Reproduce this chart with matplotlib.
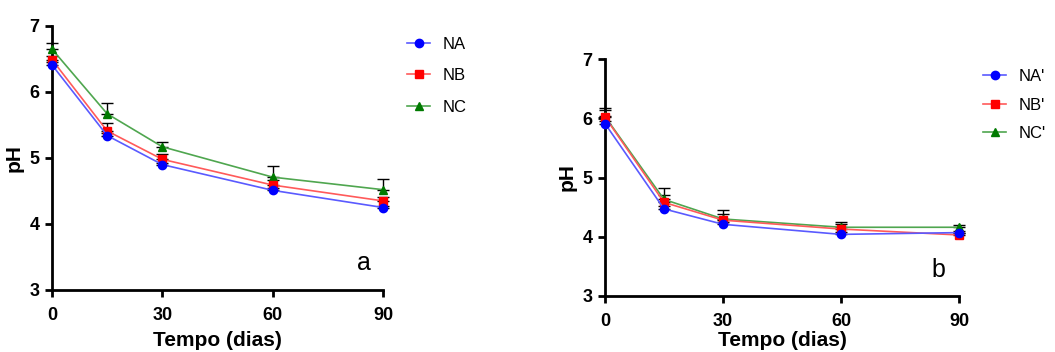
import numpy as np
import matplotlib
matplotlib.use("Agg")
import matplotlib.pyplot as plt

plt.rcParams['font.family'] = ['Liberation Sans', 'DejaVu Sans']

# Sampling days
days = [0, 15, 30, 60, 90]

# Panel a
labels_a = ['NA', 'NB', 'NC']
na = [6.41, 5.34, 4.90, 4.51, 4.25]
nb = [6.49, 5.41, 4.98, 4.59, 4.35]
nc = [6.65, 5.67, 5.17, 4.71, 4.52]
na_err = [0.04, 0.04, 0.03, 0.03, 0.03]
nb_err = [0.06, 0.12, 0.08, 0.08, 0.06]
nc_err = [0.09, 0.16, 0.08, 0.17, 0.16]

# Panel b
labels_b = ["NA'", "NB'", "NC'"]
na2 = [5.91, 4.47, 4.21, 4.04, 4.07]
nb2 = [6.02, 4.58, 4.28, 4.13, 4.03]
nc2 = [6.03, 4.63, 4.30, 4.16, 4.16]
na2_err = [0.05, 0.05, 0.04, 0.04, 0.02]
nb2_err = [0.12, 0.12, 0.10, 0.08, 0.03]
nc2_err = [0.15, 0.20, 0.15, 0.09, 0.03]

line_cols = ['#5a5aff', '#ff5a5a', '#4fa64f']
mark_cols = ['#0000ff', '#ff0000', '#007a00']
markers = ['o', 's', '^']

fig = plt.figure(figsize=(10.55, 3.52), dpi=100)
ax_a = fig.add_axes([52/1055, 62/352, 331/1055, 264/352])
ax_b = fig.add_axes([605/1055, 56/352, 354/1055, 237/352])


def draw_panel(ax, series, errs, labels, letter, letter_y, leg_anchor,
               leg_spacing, xlabel_pad):
    for vals, err in zip(series, errs):
        ax.errorbar(days, vals, yerr=[np.zeros(len(err)), err], fmt='none',
                    ecolor='black', elinewidth=1, capsize=4, capthick=1,
                    zorder=2, clip_on=False)
    # first series drawn on top, as in the original
    for i in range(len(series)):
        ax.plot(days, series[i], color=line_cols[i], lw=1.2, marker=markers[i],
                markersize=6, markerfacecolor=mark_cols[i],
                markeredgecolor=mark_cols[i], label=labels[i], zorder=5 - i,
                clip_on=False)
    ax.set_xlim(0, 90)
    ax.set_ylim(3, 7)
    ax.set_xticks([0, 30, 60, 90])
    ax.set_yticks([3, 4, 5, 6, 7])
    for s in ['top', 'right']:
        ax.spines[s].set_visible(False)
    for s in ['left', 'bottom']:
        ax.spines[s].set_linewidth(2)
    ax.tick_params(width=2, length=5, labelsize=13)
    ax.tick_params(axis='x', pad=7)
    ax.tick_params(axis='y', pad=4)
    for t in ax.get_xticklabels() + ax.get_yticklabels():
        t.set_fontweight('bold')
    ax.set_xlabel('Tempo (dias)', fontsize=15, fontweight='bold',
                  labelpad=xlabel_pad)
    ax.set_ylabel('pH', fontsize=15, fontweight='bold', labelpad=4)
    ax.text(84.7, letter_y, letter, fontsize=18, ha='center', va='baseline')
    ax.legend(loc='upper left', bbox_to_anchor=leg_anchor,
              bbox_transform=fig.transFigure, frameon=False, fontsize=12,
              handlelength=1.4, handletextpad=0.75, borderpad=0,
              borderaxespad=0, labelspacing=leg_spacing)


draw_panel(ax_a, [na, nb, nc], [na_err, nb_err, nc_err], labels_a, 'a', 3.30,
           (407/1055, 1 - 37/352), 0.98, 5)
draw_panel(ax_b, [na2, nb2, nc2], [na2_err, nb2_err, nc2_err], labels_b, 'b', 3.32,
           (983/1055, 1 - 69/352), 0.82, 1)

fig.savefig('out.png', dpi=100)
